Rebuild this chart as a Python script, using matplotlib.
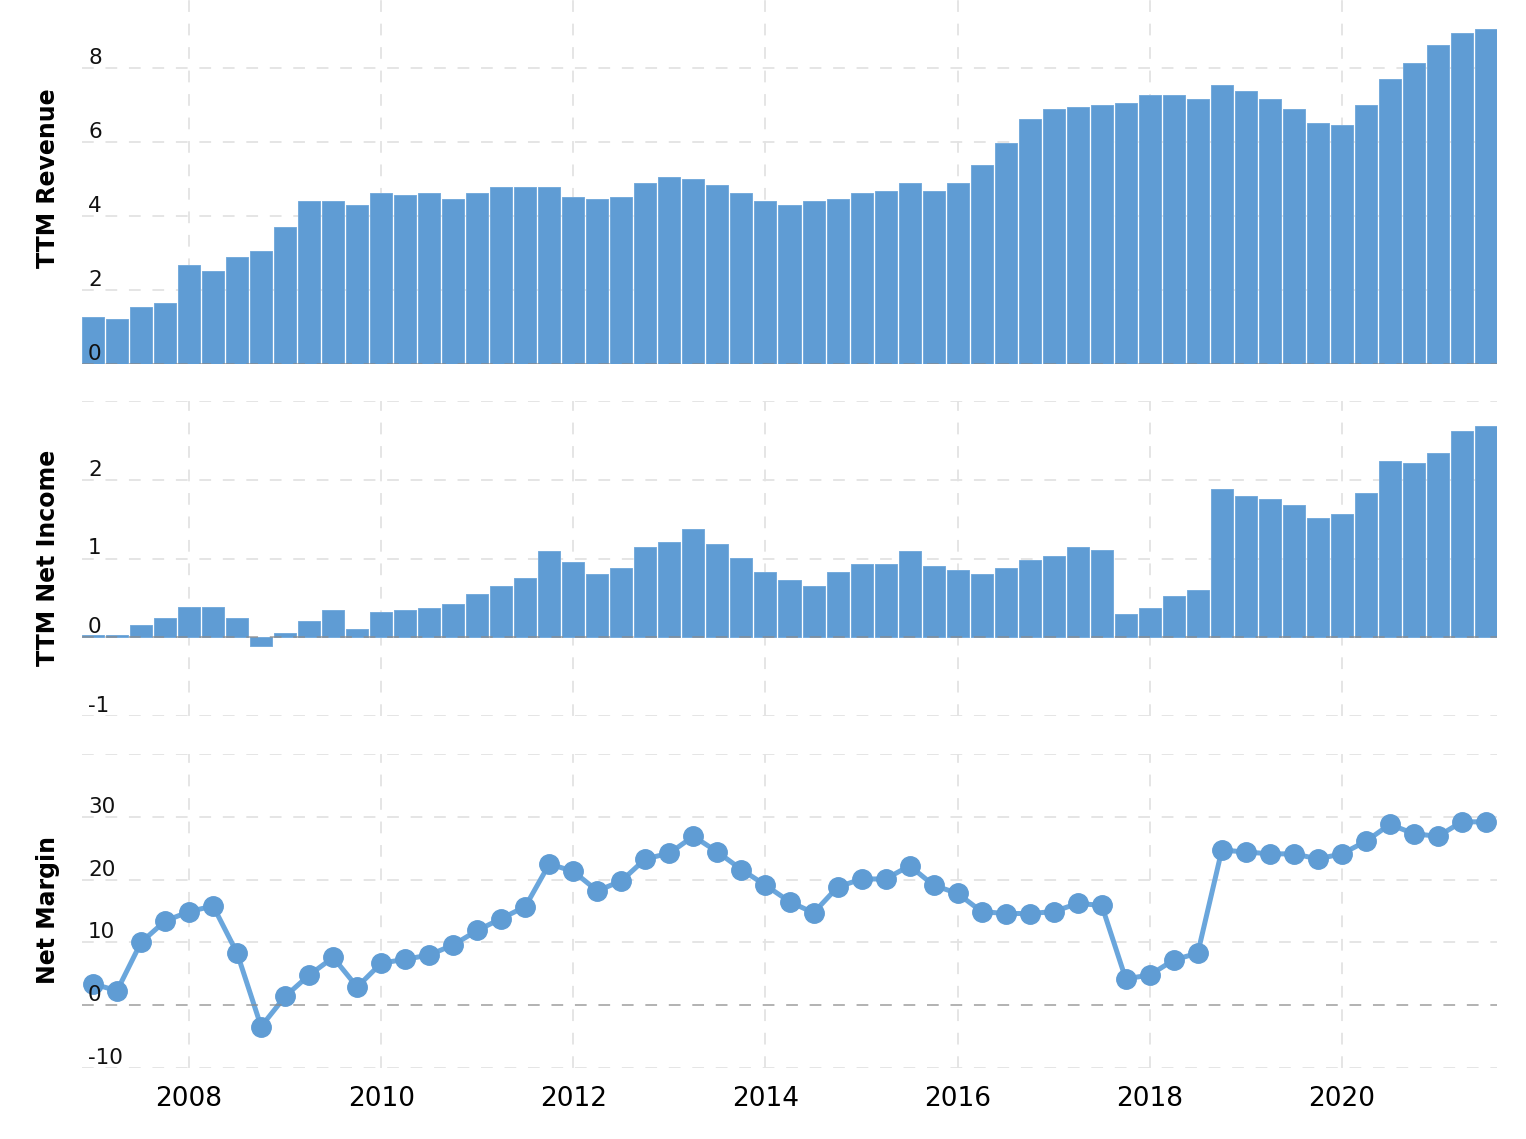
import matplotlib
matplotlib.use("Agg")
import matplotlib.pyplot as plt
import numpy as np

# ---- data (quarterly, 2007 Q1 .. 2021 Q3) ----
start_year = 2007.0
revenue = [1.26, 1.21, 1.54, 1.65, 2.68, 2.51, 2.89, 3.05, 3.70, 4.41,
           4.41, 4.30, 4.62, 4.57, 4.62, 4.46, 4.62, 4.78, 4.78, 4.78,
           4.51, 4.46, 4.51, 4.89, 5.05, 5.00, 4.84, 4.62, 4.41, 4.30,
           4.41, 4.46, 4.62, 4.68, 4.89, 4.68, 4.89, 5.38, 5.97, 6.62,
           6.89, 6.95, 7.00, 7.05, 7.27, 7.27, 7.16, 7.54, 7.38, 7.16,
           6.89, 6.51, 6.46, 7.00, 7.70, 8.14, 8.62, 8.95, 9.05]
net_income = [0.034, 0.034, 0.16, 0.24, 0.39, 0.39, 0.24, -0.115, 0.06, 0.21,
              0.34, 0.11, 0.32, 0.34, 0.37, 0.42, 0.55, 0.65, 0.75, 1.09,
              0.96, 0.80, 0.88, 1.14, 1.21, 1.37, 1.19, 1.01, 0.83, 0.73,
              0.65, 0.83, 0.93, 0.93, 1.09, 0.91, 0.85, 0.80, 0.88, 0.98,
              1.03, 1.14, 1.11, 0.29, 0.37, 0.52, 0.60, 1.88, 1.80, 1.75,
              1.68, 1.52, 1.57, 1.83, 2.24, 2.21, 2.34, 2.62, 2.68]
net_margin = [3.4, 2.3, 10.0, 13.4, 14.9, 15.8, 8.3, -3.4, 1.4, 4.8,
              7.6, 2.9, 6.7, 7.3, 8.0, 9.6, 11.9, 13.8, 15.7, 22.5,
              21.3, 18.2, 19.8, 23.3, 24.2, 26.9, 24.4, 21.6, 19.1, 16.5,
              14.7, 18.8, 20.1, 20.1, 22.2, 19.1, 17.8, 14.9, 14.6, 14.6,
              14.9, 16.2, 15.9, 4.2, 4.8, 7.2, 8.3, 24.7, 24.4, 24.1,
              24.1, 23.3, 24.1, 26.1, 28.8, 27.3, 26.9, 29.2, 29.2]
year_ticks = [2008, 2010, 2012, 2014, 2016, 2018, 2020]
year_labels = ["2008", "2010", "2012", "2014", "2016", "2018", "2020"]
rev_ticks = [0, 2, 4, 6, 8]
ni_ticks = [-1, 0, 1, 2]
nm_ticks = [-10, 0, 10, 20, 30]

dates = start_year + 0.25 * np.arange(len(revenue))

BLUE = "#5f9cd4"
EDGE = "#76abdc"
GRID = "#e3e3e3"
ZERO = "#8a8a8a"

W, H = 1526, 1139
fig = plt.figure(figsize=(W / 100, H / 100), dpi=100)
fig.patch.set_facecolor("white")

def add_ax(top_px, bottom_px):
    left, right = 82, 1497
    return fig.add_axes([left / W, 1 - bottom_px / H, (right - left) / W,
                         (bottom_px - top_px) / H])

ax1 = add_ax(0, 364)
ax2 = add_ax(401, 716)
ax3 = add_ax(754, 1068)

xlim = (2007.0 - 11 / 96, 2021.5 + 11 / 96)
dash = (0, (6.5, 6.5))

def style(ax, ylim, grid_vals, label_vals, title, label_center_px):
    ax.set_xlim(*xlim)
    ax.set_ylim(*ylim)
    for s in ax.spines.values():
        s.set_visible(False)
    ax.set_yticks([])
    ax.set_xticks(year_ticks)
    ax.tick_params(axis="x", length=0)
    for xv in year_ticks:
        ax.axvline(xv, color=GRID, lw=1.3, ls=dash, zorder=0.5)
    for yv in grid_vals:
        if yv == 0:
            ax.axhline(yv, color=ZERO, lw=1.3, ls=dash, zorder=5, alpha=0.7)
        else:
            ax.axhline(yv, color=GRID, lw=1.3, ls=dash, zorder=0.5)
    for yv in label_vals:
        ax.annotate(str(yv), xy=(0, yv), xycoords=("axes fraction", "data"),
                    xytext=(6, 4), textcoords="offset pixels",
                    ha="left", va="baseline", fontsize=15.5, color="#111111",
                    zorder=6)
    fig.text(48 / W, 1 - label_center_px / H, title, rotation=90,
             ha="center", va="center", fontsize=17, fontweight="bold")

bw = 0.25 * 22 / 24
ax1.bar(dates, revenue, width=bw, color=BLUE, edgecolor=EDGE, linewidth=0.7, zorder=2)
style(ax1, (0, 9.84), [0, 2, 4, 6, 8], rev_ticks, "TTM Revenue", 178)
ax1.set_xticklabels([])

ax2.bar(dates, net_income, width=bw, color=BLUE, edgecolor=EDGE, linewidth=0.7, zorder=2)
style(ax2, (-1, 3), [-1, 0, 1, 2, 3], ni_ticks, "TTM Net Income", 558)
ax2.set_xticklabels([])

ax3.plot(dates, net_margin, color="#6aa6dc", lw=3.6, zorder=3,
         marker="o", markersize=14, markerfacecolor=BLUE, markeredgecolor=BLUE)
style(ax3, (-10, 40), [-10, 0, 10, 20, 30, 40], nm_ticks, "Net Margin", 910)
ax3.set_xticklabels(year_labels, fontsize=19)
ax3.tick_params(axis="x", pad=13)

fig.savefig("out.png", dpi=100, facecolor="white")
